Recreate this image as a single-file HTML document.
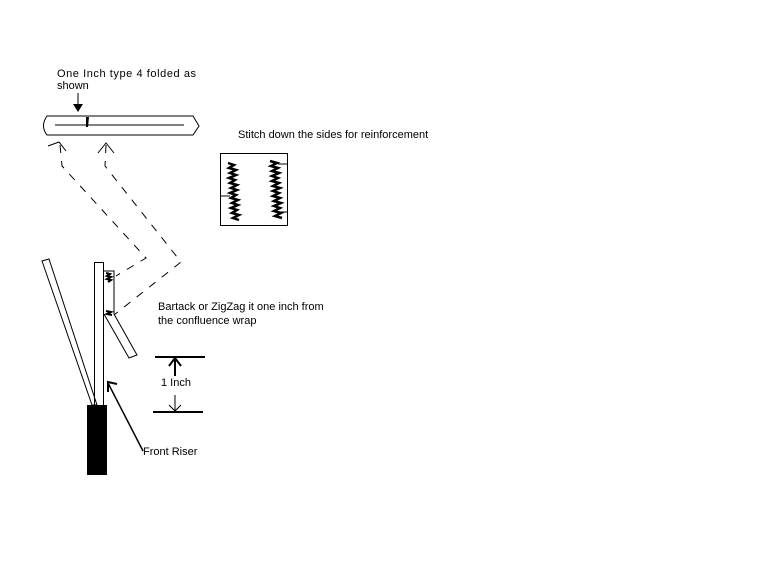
<!DOCTYPE html>
<html><head><style>
html,body{margin:0;padding:0;background:#fff;width:768px;height:576px;overflow:hidden}
svg text{font-family:"Liberation Sans",sans-serif;font-size:11px;fill:#000}
</style></head><body>
<svg width="768" height="576" viewBox="0 0 768 576" xmlns="http://www.w3.org/2000/svg">
<g fill="none" stroke="#000" stroke-width="1">
<path d="M47,116 L193,116 L199,126 L193,135 L47,135 Q40,126 47,116 Z"/>
<line x1="55" y1="125" x2="184" y2="125"/>
</g>
<path d="M86,117 L89,117 L88,127 L86,127 Z" fill="#000"/>
<text x="57" y="77" textLength="139" lengthAdjust="spacing">One Inch type 4 folded as</text>
<text x="57" y="89">shown</text>
<line x1="78" y1="93" x2="78" y2="106" stroke="#000"/>
<path d="M73,104 L83,104 L78,112 Z" fill="#000"/>
<text x="238" y="138">Stitch down the sides for reinforcement</text>
<rect x="220.5" y="153.5" width="67" height="72" fill="none" stroke="#000"/>
<path d="M228,163 l6,2 -5,3 7,2 -6,3 6,2 -7,3 6,2 -5,3 7,2 -6,3 6,2 -7,3 6,2 -5,3 7,2 -6,3 6,2 -7,3 6,2 -5,3 7,2 -6,3 6,2" fill="none" stroke="#000" stroke-width="2.5"/>
<path d="M270,161 l7,2 -6,3 7,2 -6,3 7,2 -7,3 6,2 -6,3 7,2 -6,3 7,2 -7,3 6,2 -6,3 7,2 -6,3 7,2 -7,3 6,2 -6,3 7,2 -6,3 7,2" fill="none" stroke="#000" stroke-width="2.5"/>
<line x1="220" y1="196" x2="230" y2="196" stroke="#000"/>
<line x1="278" y1="164" x2="287" y2="164" stroke="#000"/>
<line x1="278" y1="212" x2="287" y2="212" stroke="#000"/>
<g fill="none" stroke="#000" stroke-dasharray="8,8">
<polyline points="60,145 62,166 146,258 116,276"/>
<polyline points="106,145 105,166 181,262 114,315"/>
</g>
<g fill="none" stroke="#000">
<polyline points="48,146 59,142 66,151"/>
<polyline points="98,153 106,143 114,153"/>
<polygon points="42,261 49,259 97,405 92,405"/>
<rect x="94.5" y="262.5" width="9" height="143"/>
<polyline points="103,271 114,271 114,314 137,355 129,358 104,314"/>
<line x1="155" y1="357" x2="205" y2="357" stroke-width="2"/>
<line x1="153" y1="412" x2="203" y2="412" stroke-width="2"/>
<line x1="175" y1="359" x2="175" y2="376" stroke-width="2"/>
<polyline points="169,366 175,358 181,366" stroke-width="2"/>
<line x1="175" y1="395" x2="175" y2="411"/>
<polyline points="169,405 175,411 181,405"/>
<line x1="143" y1="451" x2="108" y2="383" stroke-width="1.5"/>
<polyline points="108,392 108,382 117,384" stroke-width="2"/>
</g>
<rect x="87" y="405" width="20" height="70" fill="#000"/>
<path d="M106,273 l4,1 -3,2 4,1 -4,2 4,1 -3,2" stroke="#000" fill="none" stroke-width="2"/>
<path d="M106,311 l5,1 -4,2 5,1" stroke="#000" fill="none" stroke-width="2"/>
<text x="158" y="310">Bartack or ZigZag it one inch from</text>
<text x="158" y="324">the confluence wrap</text>
<text x="161" y="386">1 Inch</text>
<text x="143" y="455">Front Riser</text>
</svg>
</body></html>
